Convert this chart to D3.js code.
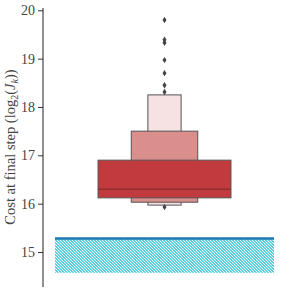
<!DOCTYPE html>
<html><head><meta charset="utf-8">
<script src="https://cdn.jsdelivr.net/npm/d3@7"></script>
<style>body{margin:0;background:#fff}svg{display:block}</style>
</head><body>
<svg id="c" width="291" height="291"></svg>
<script>
// letter-value boxes (widest first): [lower, upper]
const boxLower = [16.12, 16.03, 15.97];
const boxUpper = [16.90, 17.50, 18.25];
const boxColors = ["#c13b3e", "#db8f8d", "#f6e2e2"];
const median = 16.30;
const outliers = [19.80, 19.39, 19.33, 18.97, 18.70, 18.45, 18.31, 15.93];
const bandMin = 14.57, bandMax = 15.28, bandLine = 15.28;
const yTicks = [15, 16, 17, 18, 19, 20];

const svg = d3.select("#c");
const y = d3.scaleLinear().domain([15, 20]).range([252, 10.3]);
const x = d3.scaleLinear().domain([-0.5, 0.5]).range([55, 274]);
const boxW = 0.607;

// hatch pattern "\\"
const defs = svg.append("defs");
const pat = defs.append("pattern").attr("id", "hatch").attr("patternUnits", "userSpaceOnUse")
  .attr("width", 3).attr("height", 3);
pat.append("rect").attr("width", 3).attr("height", 3).attr("fill", "#17becf");
pat.append("path").attr("d", "M-1,-1L4,4M-1,2L1,4M2,-1L4,1")
  .attr("stroke", "#ffffff").attr("stroke-width", 1.1);

svg.append("rect").attr("x", x(-0.5)).attr("width", x(0.5) - x(-0.5))
  .attr("y", y(bandMax)).attr("height", y(bandMin) - y(bandMax)).attr("fill", "url(#hatch)");
svg.append("line").attr("x1", x(-0.5)).attr("x2", x(0.5)).attr("y1", y(bandLine)).attr("y2", y(bandLine))
  .attr("stroke", "#1f77b4").attr("stroke-width", 2.5);

// boxes: draw narrowest first so widest is on top
for (let i = boxLower.length - 1; i >= 0; i--) {
  const w = boxW / Math.pow(2, i);
  svg.append("rect").attr("x", x(-w / 2)).attr("width", x(w / 2) - x(-w / 2))
    .attr("y", y(boxUpper[i])).attr("height", y(boxLower[i]) - y(boxUpper[i]))
    .attr("fill", boxColors[i]).attr("stroke", "#555").attr("stroke-width", 1);
}
svg.append("line").attr("x1", x(-boxW / 2)).attr("x2", x(boxW / 2))
  .attr("y1", y(median)).attr("y2", y(median)).attr("stroke", "#7d2a2c").attr("stroke-width", 1);

// outliers as diamonds
svg.selectAll("path.o").data(outliers).enter().append("path")
  .attr("d", "M0,-3.2L2,0L0,3.2L-2,0Z")
  .attr("transform", d => `translate(${x(0)},${y(d)})`)
  .attr("fill", "#444");

// axis
const ax = svg.append("g").attr("transform", "translate(43,0)")
  .call(d3.axisLeft(y).tickValues(yTicks).tickSize(5).tickPadding(3).tickFormat(d3.format("d")));
ax.select(".domain").remove();
ax.append("line").attr("x1", 0).attr("x2", 0).attr("y1", 8).attr("y2", 287).attr("stroke", "#333").attr("stroke-width", 1.1);
ax.selectAll(".tick line").attr("stroke", "#333");
ax.selectAll(".tick text").attr("font-family", "Liberation Serif").attr("font-size", 14).attr("fill", "#444");

// y label
const lab = svg.append("text").attr("transform", "translate(15,147) rotate(-90)")
  .attr("text-anchor", "middle").attr("font-family", "Liberation Serif").attr("font-size", 14.5).attr("fill", "#444");
lab.append("tspan").text("Cost at final step (log");
lab.append("tspan").attr("font-size", 10).attr("dy", 3).text("2");
lab.append("tspan").attr("dy", -3).text("(");
lab.append("tspan").attr("font-style", "italic").text("J");
lab.append("tspan").attr("font-size", 10).attr("font-style", "italic").attr("dy", 3).text("k");
lab.append("tspan").attr("dy", -3).text("))");
</script>
</body></html>
